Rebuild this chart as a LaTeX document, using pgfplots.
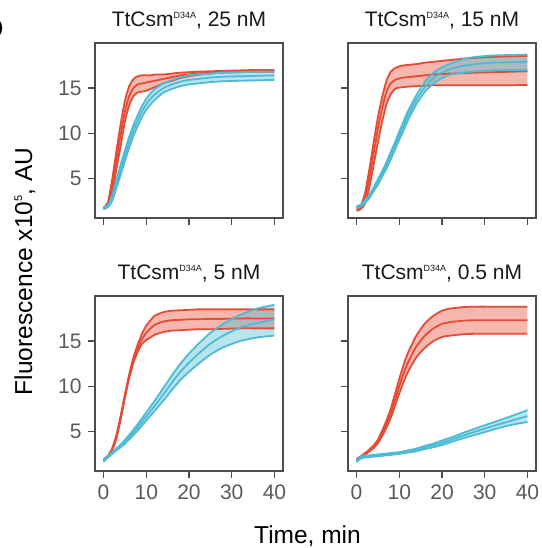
\documentclass[border=0pt]{standalone}
\usepackage{fontspec}
\setmainfont{Liberation Sans}
\usepackage{pgfplots}
\pgfplotsset{compat=1.18}
\usepackage{pgfplotstable}
\usepgfplotslibrary{fillbetween}

\definecolor{cred}{RGB}{230,75,53}
\definecolor{cblue}{RGB}{77,187,213}
\definecolor{axgray}{RGB}{77,77,77}
\definecolor{tickgray}{RGB}{90,90,90}

% 25 nM
\pgfplotstableread{
t rm rl rh bm bl bh
0 1.7 1.6 1.8 1.7 1.6 1.8
1 2.1 1.9 2.3 1.9 1.8 2.0
2 4.0 3.3 4.8 2.8 2.5 3.1
3 7.0 6.0 8.0 4.3 3.9 4.8
4 9.8 8.6 11.0 5.9 5.4 6.5
5 12.4 11.3 13.6 7.5 6.9 8.1
6 14.1 13.1 15.2 9.0 8.4 9.6
7 15.0 14.1 16.0 10.3 9.7 10.9
8 15.4 14.5 16.3 11.4 10.8 12.0
9 15.5 14.6 16.4 12.4 11.8 13.0
10 15.6 14.7 16.4 13.2 12.6 13.8
11 15.7 14.9 16.4 13.8 13.2 14.4
12 15.8 15.1 16.5 14.3 13.7 14.9
14 16.0 15.5 16.5 15.0 14.5 15.5
16 16.2 15.8 16.6 15.4 14.9 15.9
18 16.4 16.1 16.7 15.7 15.2 16.2
20 16.5 16.3 16.75 15.9 15.4 16.4
22 16.6 16.45 16.8 16.0 15.5 16.5
25 16.7 16.6 16.85 16.15 15.65 16.6
28 16.8 16.7 16.9 16.25 15.75 16.7
32 16.85 16.75 16.95 16.3 15.8 16.75
36 16.9 16.8 17.0 16.35 15.85 16.8
40 16.9 16.8 17.0 16.4 15.9 16.85
}\tabA

% 15 nM
\pgfplotstableread{
t rm rl rh bm bl bh
0 1.6 1.4 1.8 1.8 1.7 1.9
1 1.8 1.6 2.0 2.0 1.9 2.1
2 2.8 2.2 3.4 2.4 2.3 2.6
3 5.0 4.0 6.0 3.0 2.8 3.2
4 7.8 6.5 9.0 3.8 3.6 4.0
5 10.5 9.0 11.8 4.6 4.3 4.9
6 12.8 11.3 14.0 5.5 5.2 5.8
7 14.6 13.2 15.8 6.4 6.1 6.8
8 15.5 14.3 16.8 7.5 7.1 7.9
9 15.9 14.9 17.2 8.6 8.2 9.0
10 16.05 15.05 17.4 9.7 9.3 10.2
11 16.15 15.1 17.5 10.8 10.3 11.3
12 16.2 15.15 17.55 11.9 11.4 12.4
14 16.3 15.2 17.65 13.7 13.2 14.2
16 16.4 15.25 17.8 15.1 14.6 15.7
18 16.5 15.3 17.9 16.1 15.5 16.7
20 16.55 15.3 18.0 16.7 16.1 17.3
22 16.6 15.3 18.1 17.1 16.5 17.7
25 16.65 15.3 18.25 17.45 16.7 18.2
28 16.7 15.3 18.35 17.65 16.85 18.45
32 16.75 15.3 18.45 17.8 16.95 18.6
36 16.8 15.3 18.5 17.85 17.0 18.65
40 16.85 15.35 18.55 17.9 17.0 18.7
}\tabB

% 5 nM
\pgfplotstableread{
t rm rl rh bm bl bh
0 1.8 1.7 1.9 1.8 1.7 1.9
1 2.2 2.1 2.3 2.2 2.1 2.3
2 3.0 2.9 3.1 2.6 2.5 2.7
3 4.4 4.2 4.6 3.0 2.9 3.1
4 6.5 6.3 6.7 3.4 3.25 3.55
5 8.9 8.7 9.1 3.85 3.65 4.05
6 11.1 10.9 11.3 4.35 4.1 4.6
7 12.9 12.6 13.2 4.9 4.6 5.2
8 14.2 13.8 14.6 5.45 5.1 5.8
9 15.2 14.7 15.8 6.05 5.65 6.45
10 15.9 15.1 16.7 6.65 6.2 7.1
11 16.4 15.4 17.3 7.25 6.75 7.75
12 16.8 15.7 17.8 7.85 7.3 8.4
14 17.15 16.0 18.2 9.1 8.4 9.8
16 17.3 16.15 18.35 10.4 9.6 11.2
18 17.35 16.2 18.4 11.6 10.7 12.5
20 17.4 16.25 18.45 12.6 11.6 13.6
22 17.4 16.3 18.5 13.5 12.4 14.6
25 17.45 16.3 18.5 14.7 13.5 15.9
28 17.45 16.35 18.5 15.6 14.3 16.9
32 17.5 16.4 18.5 16.5 15.0 17.9
36 17.5 16.4 18.5 17.0 15.4 18.6
40 17.5 16.4 18.5 17.4 15.6 19.0
}\tabC

% 0.5 nM
\pgfplotstableread{
t rm rl rh bm bl bh
0 1.9 1.85 1.95 1.7 1.6 1.8
1 2.2 2.15 2.25 2.1 2.0 2.2
2 2.5 2.4 2.6 2.2 2.1 2.3
3 2.9 2.8 3.0 2.25 2.15 2.35
4 3.3 3.15 3.45 2.3 2.2 2.4
5 3.9 3.7 4.1 2.35 2.25 2.45
6 4.8 4.5 5.1 2.4 2.3 2.5
7 5.8 5.4 6.2 2.45 2.35 2.55
8 7.0 6.5 7.5 2.5 2.4 2.6
9 8.5 7.85 9.15 2.55 2.45 2.65
10 10.0 9.2 10.8 2.6 2.5 2.7
11 11.4 10.45 12.35 2.7 2.6 2.8
12 12.6 11.55 13.65 2.8 2.65 2.9
14 14.4 13.2 15.6 2.95 2.8 3.1
16 15.6 14.25 16.95 3.2 3.05 3.4
18 16.4 15.0 17.8 3.45 3.25 3.65
20 16.9 15.45 18.35 3.75 3.5 4.0
22 17.1 15.6 18.6 4.05 3.8 4.3
25 17.25 15.75 18.75 4.55 4.25 4.85
28 17.3 15.8 18.8 5.0 4.65 5.35
32 17.3 15.8 18.8 5.6 5.2 6.0
36 17.3 15.8 18.8 6.15 5.7 6.65
40 17.3 15.8 18.8 6.7 6.05 7.35
}\tabD

\pgfplotsset{
  panel/.style={
    scale only axis, width=188pt, height=175pt, anchor=south west,
    xmin=-2, xmax=42, ymin=0.62, ymax=19.98,
    xtick={0,10,20,30,40}, ytick={5,10,15},
    axis line style={axgray, line width=1.3pt},
    major tick style={axgray, line width=1.3pt},
    major tick length=7pt,
    tick align=outside,
    xtick pos=bottom, ytick pos=left,
    /pgf/number format/assume math mode=true,
    ticklabel style={font=\fontsize{21}{24}\selectfont, text=tickgray},
    yticklabel style={xshift=-3pt},
    xticklabel style={yshift=-3pt},
    title style={font=\fontsize{21}{24}\selectfont, text=black!90,
      at={(0.5,1)}, anchor=base, yshift=10pt},
  },
  rline/.style={cred, line width=1.8pt, mark=none, smooth, tension=0.35},
  bline/.style={cblue, line width=1.8pt, mark=none, smooth, tension=0.35},
  noxl/.style={xticklabels={,,,,,}},
  noyl/.style={yticklabels={,,,}},
}

\newcommand{\supx}[1]{\raisebox{8.8pt}{\fontsize{9}{10}\selectfont #1}}

\newcommand{\panel}[5]{%
\begin{axis}[panel, at={#2}, title={#3}, #4]
\addplot[rline, name path=rl#5] table[x=t,y=rl]{#1};
\addplot[rline, name path=rh#5] table[x=t,y=rh]{#1};
\addplot[cred, fill opacity=0.4, draw=none] fill between[of=rl#5 and rh#5];
\addplot[rline] table[x=t,y=rm]{#1};
\addplot[bline, name path=bl#5] table[x=t,y=bl]{#1};
\addplot[bline, name path=bh#5] table[x=t,y=bh]{#1};
\addplot[cblue, fill opacity=0.4, draw=none] fill between[of=bl#5 and bh#5];
\addplot[bline] table[x=t,y=bm]{#1};
\end{axis}}

\begin{document}
\begin{tikzpicture}[x=1pt,y=1pt]
\panel{\tabA}{(95pt,330pt)}{TtCsm\supx{D34A}, 25 nM}{noxl}{a}
\panel{\tabB}{(348pt,330pt)}{TtCsm\supx{D34A}, 15 nM}{noxl, noyl}{b}
\panel{\tabC}{(95pt,77pt)}{TtCsm\supx{D34A}, 5 nM}{}{c}
\panel{\tabD}{(348pt,77pt)}{TtCsm\supx{D34A}, 0.5 nM}{noyl}{d}
\node[font=\fontsize{24.5}{28}\selectfont, anchor=base] at (307.5pt,5pt) {Time, min};
\node[font=\fontsize{24.5}{28}\selectfont, anchor=base, rotate=90] at (32pt,276.5pt)
  {Fluorescence x10\raisebox{10pt}{\fontsize{11}{12}\selectfont 5}, AU};
\node[font=\bfseries\fontsize{30}{32}\selectfont, anchor=base east] at (7pt,511pt) {b};
\pgfresetboundingbox
\path[use as bounding box] (0pt,0pt) rectangle (541pt,548pt);
\end{tikzpicture}
\end{document}
